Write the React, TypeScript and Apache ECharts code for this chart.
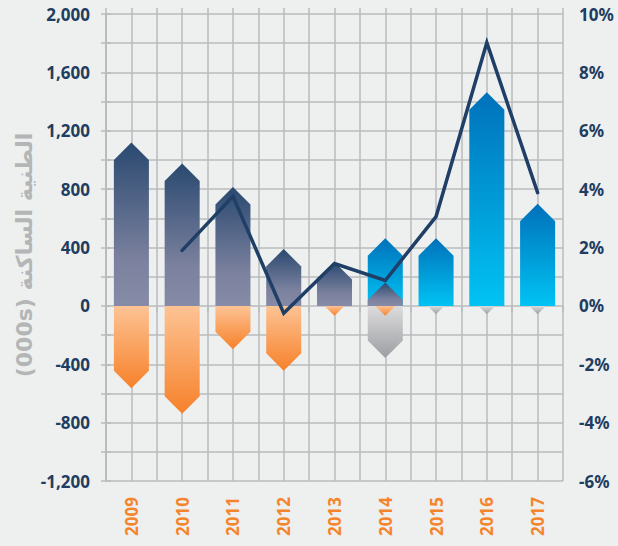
import React, { useEffect, useRef } from "react";
import * as echarts from "echarts";

const categories = ["2009", "2010", "2011", "2012", "2013", "2014", "2015", "2016", "2017"];
const navyPositive = [1120, 975, 815, 390, 300, 160, null, null, null];
const bluePositive = [null, null, null, null, null, 463, 463, 1464, 700];
const orangeNegative = [-565, -740, -297, -445, -68, -68, null, null, null];
const grayNegative = [null, null, null, null, null, -358, -57, -57, -57];
const growthPct = [null, 1.9, 3.75, -0.25, 1.45, 0.87, 3.06, 9.02, 3.88];

const leftMin = -1200;
const leftMax = 2000;
const rightMin = -6;
const rightMax = 10;

const titleText = "(000s) الطنية الساكنة";

const GRID_COLOR = "#b9bbbc";
const LABEL_COLOR = "#1f3d61";
const FONT = "'Noto Sans', 'DejaVu Sans', sans-serif";

function grad(stops: [number, string][]) {
  return new echarts.graphic.LinearGradient(
    0,
    0,
    0,
    1,
    stops.map(([offset, color]) => ({ offset, color }))
  );
}

function arrowSeries(name: string, values: (number | null)[], stops: [number, string][], z: number) {
  const data: [number, number][] = [];
  values.forEach((v, i) => {
    if (v !== null) data.push([i, v]);
  });
  return {
    type: "custom",
    name,
    xAxisIndex: 0,
    yAxisIndex: 0,
    z,
    data,
    renderItem: (params: any, api: any) => {
      const idx = api.value(0);
      const v = api.value(1);
      const p0 = api.coord([idx, 0]);
      const pt = api.coord([idx, v]);
      const cx = p0[0];
      const y0 = p0[1];
      const yt = pt[1];
      const band = api.size([1, 0])[0];
      const hw = band * 0.345;
      const depth = Math.abs(yt - y0);
      const s = yt < y0 ? 1 : -1;
      let pts: number[][];
      if (depth <= hw) {
        pts = [
          [cx - depth, y0],
          [cx, yt],
          [cx + depth, y0],
        ];
      } else {
        pts = [
          [cx - hw, y0],
          [cx - hw, yt + s * hw],
          [cx, yt],
          [cx + hw, yt + s * hw],
          [cx + hw, y0],
        ];
      }
      return {
        type: "polygon",
        shape: { points: pts },
        style: { fill: grad(stops) },
      };
    },
  };
}

export default function App() {
  const ref = useRef<HTMLDivElement>(null);
  useEffect(() => {
    document.body.style.margin = "0";
    document.body.style.background = "#eef0f0";
    if (!ref.current) return;
    const chart = echarts.init(ref.current, null, { renderer: "svg" });
    const fmtLeft = (v: number) => (v % 400 === 0 ? v.toLocaleString("en-US") : "");
    const fmtRight = (v: number) => (v % 2 === 0 ? v + "%" : "");
    chart.setOption({
      animation: false,
      backgroundColor: "#eef0f0",
      grid: { left: 106, right: 55, top: 14, bottom: 65, containLabel: false },
      xAxis: [
        {
          type: "category",
          data: categories,
          position: "bottom",
          axisLine: { show: false },
          axisTick: { show: false },
          splitLine: { show: false },
          axisLabel: {
            rotate: 90,
            margin: 16,
            color: "#f5852c",
            fontWeight: "bold",
            fontSize: 17,
            fontFamily: FONT,
          },
        },
        {
          type: "value",
          min: 0,
          max: 18,
          interval: 1,
          position: "bottom",
          axisLine: { show: false },
          axisTick: { show: true, length: 6, lineStyle: { color: GRID_COLOR, width: 1.5 } },
          axisLabel: { show: false },
          splitLine: { show: true, lineStyle: { color: GRID_COLOR, width: 1.5 } },
        },
        {
          type: "value",
          min: 0,
          max: 18,
          interval: 1,
          position: "top",
          axisLine: { show: false },
          axisTick: { show: true, length: 6, lineStyle: { color: GRID_COLOR, width: 1.5 } },
          axisLabel: { show: false },
          splitLine: { show: false },
        },
      ],
      yAxis: [
        {
          type: "value",
          min: leftMin,
          max: leftMax,
          interval: 200,
          position: "left",
          axisLine: { show: true, lineStyle: { color: GRID_COLOR, width: 1.5 } },
          axisTick: { show: true, length: 5, lineStyle: { color: GRID_COLOR, width: 1.5 } },
          splitLine: { show: true, lineStyle: { color: GRID_COLOR, width: 1.5 } },
          axisLabel: {
            formatter: fmtLeft,
            margin: 16,
            color: LABEL_COLOR,
            fontWeight: "bold",
            fontSize: 17,
            fontFamily: FONT,
          },
        },
        {
          type: "value",
          min: rightMin,
          max: rightMax,
          interval: 1,
          position: "right",
          axisLine: { show: true, lineStyle: { color: GRID_COLOR, width: 1.5 } },
          axisTick: { show: true, length: 5, lineStyle: { color: GRID_COLOR, width: 1.5 } },
          splitLine: { show: false },
          axisLabel: {
            formatter: fmtRight,
            margin: 16,
            color: LABEL_COLOR,
            fontWeight: "bold",
            fontSize: 17,
            fontFamily: FONT,
          },
        },
      ],
      graphic: [
        {
          type: "text",
          x: 24,
          y: 255,
          rotation: Math.PI / 2,
          style: {
            text: titleText,
            font: "bold 22px 'DejaVu Sans', sans-serif",
            fill: "#b3b5b6",
            align: "center",
            verticalAlign: "middle",
          },
        },
      ],
      series: [
        arrowSeries("blue", bluePositive, [[0, "#0071ba"], [1, "#00c3f3"]], 2),
        arrowSeries("navy", navyPositive, [[0, "#2a4970"], [0.72, "#7b819e"], [1, "#868ba7"]], 3),
        arrowSeries("gray", grayNegative, [[0, "#dcdcdd"], [1, "#9d9ea2"]], 2),
        arrowSeries("orange", orangeNegative, [[0, "#fdc394"], [1, "#f6812a"]], 3),
        {
          type: "line",
          name: "growth",
          xAxisIndex: 0,
          yAxisIndex: 1,
          data: growthPct,
          showSymbol: false,
          symbol: "none",
          z: 5,
          lineStyle: { color: "#1f3f66", width: 3.5, join: "miter", cap: "round" },
        },
      ],
    });
    return () => chart.dispose();
  }, []);
  return <div ref={ref} style={{ width: 618, height: 546 }} />;
}
